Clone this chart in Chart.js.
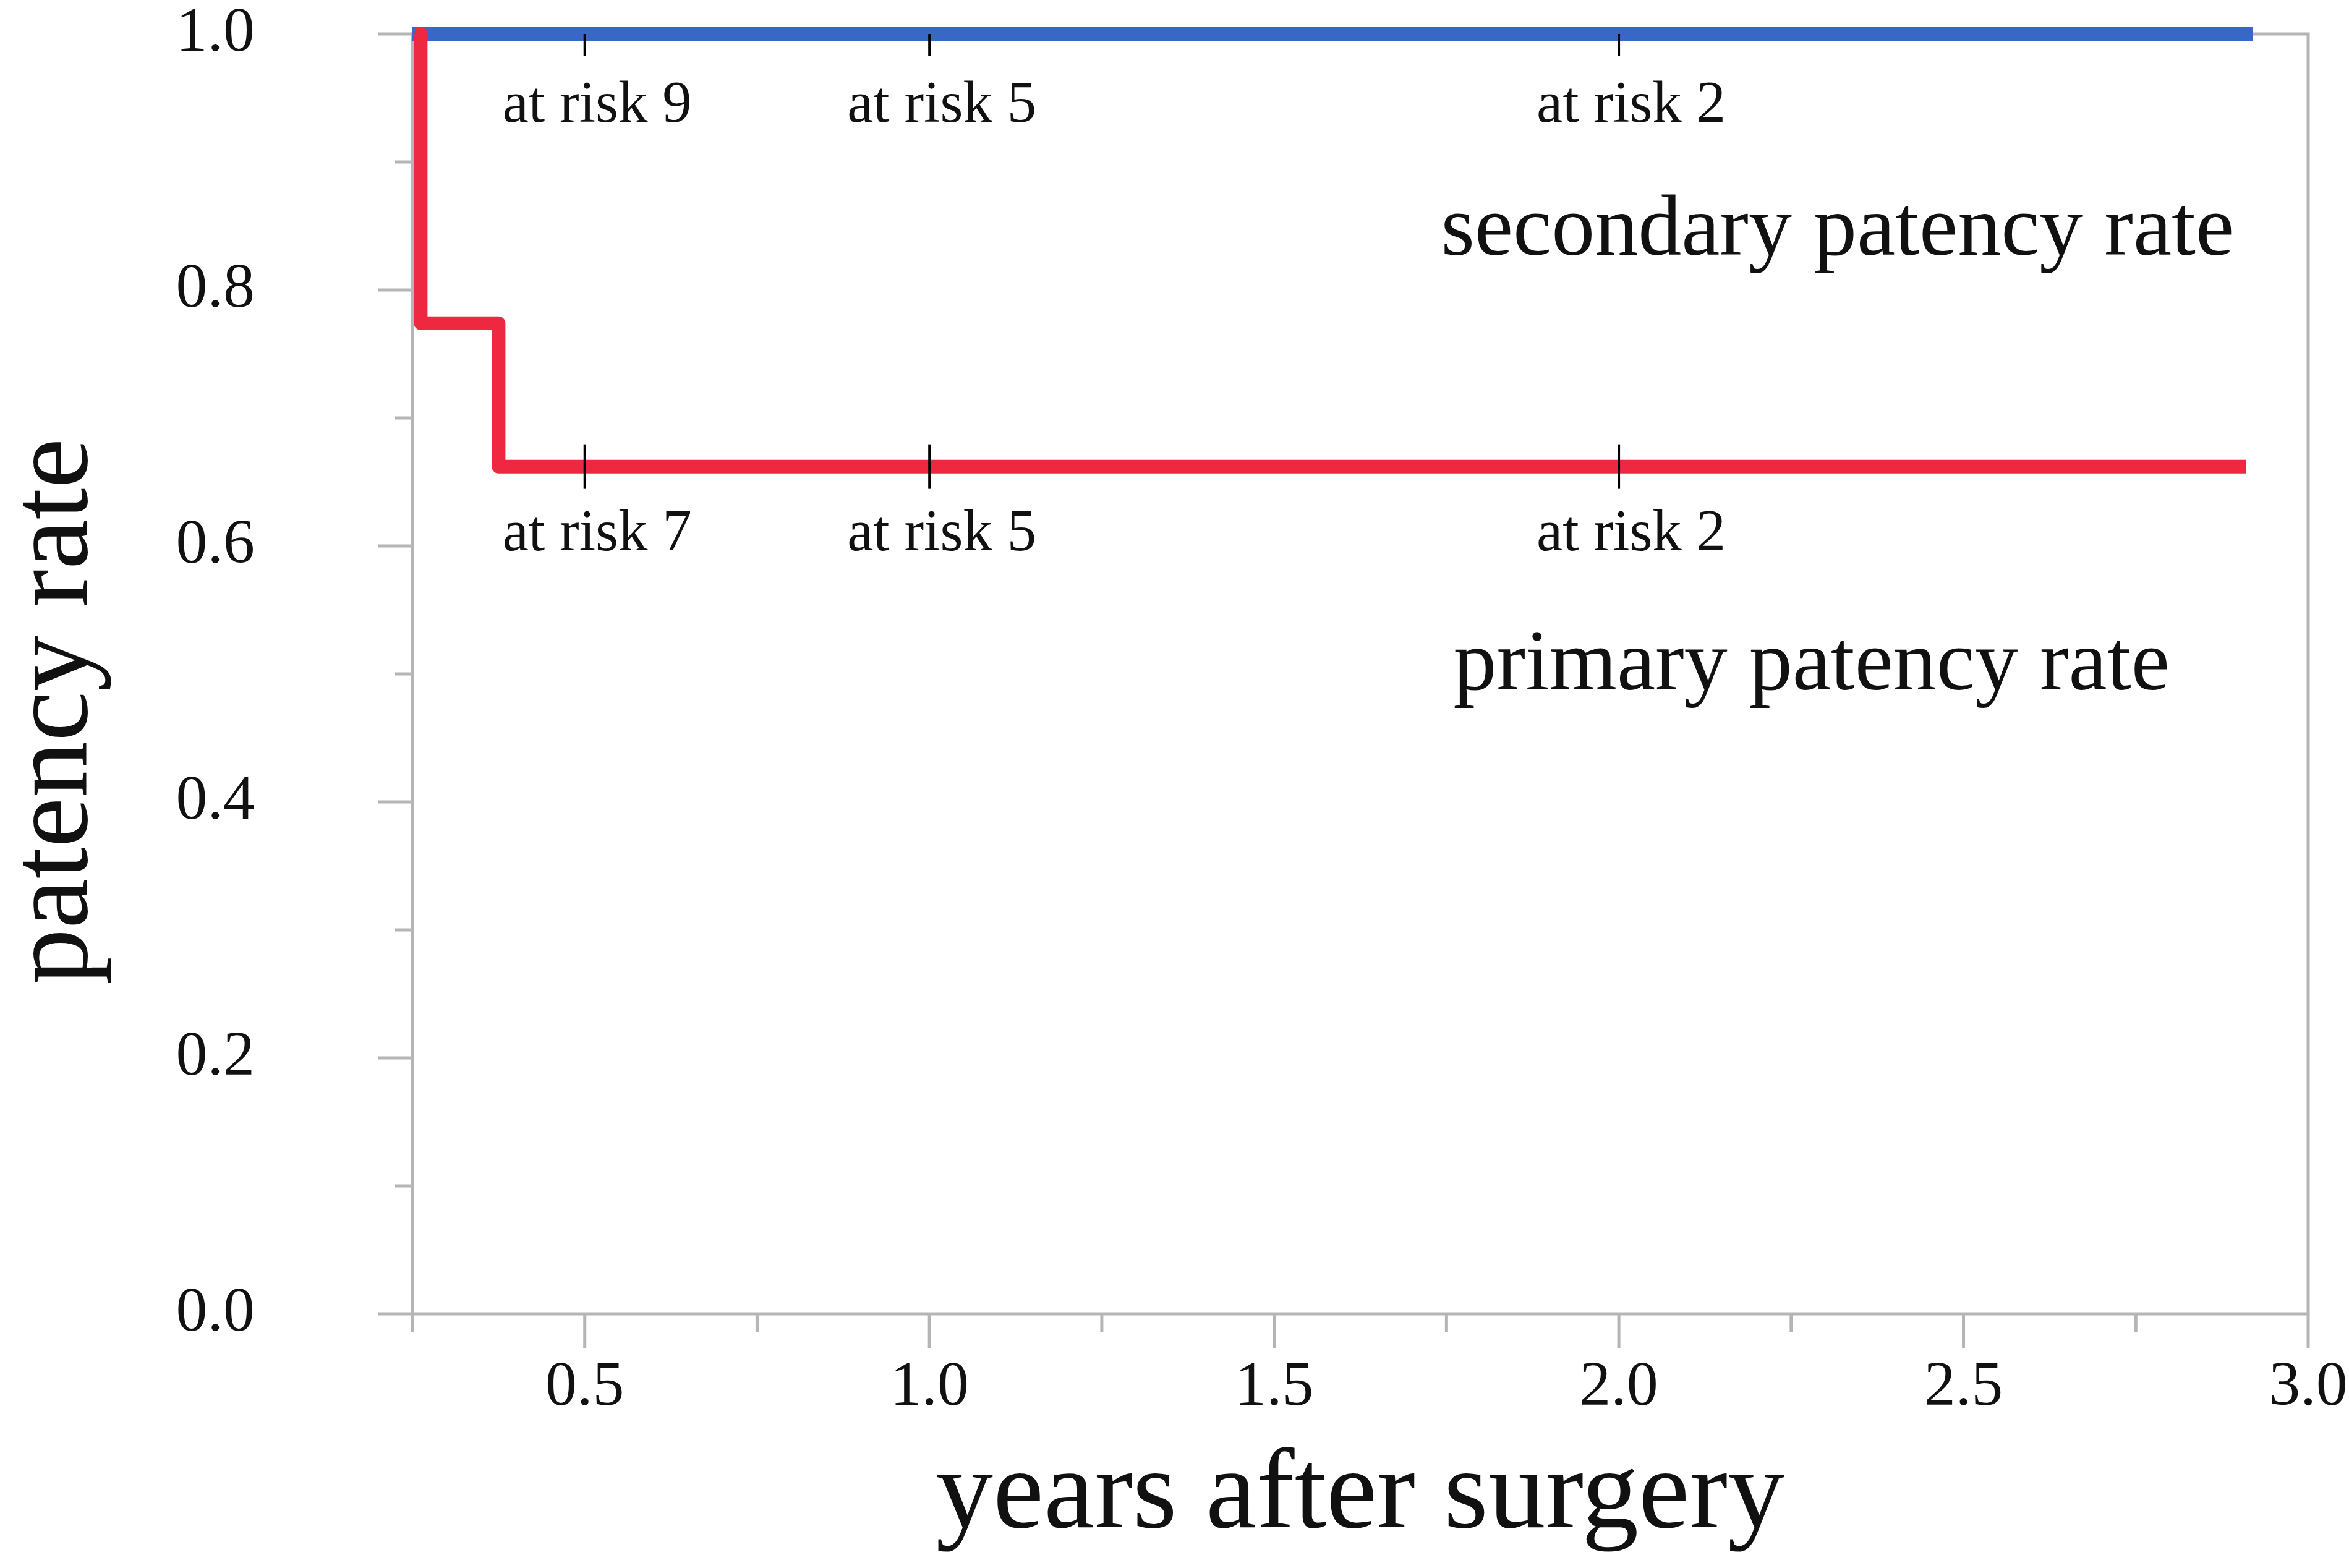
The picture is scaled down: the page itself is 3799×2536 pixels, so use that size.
<!DOCTYPE html>
<html>
<head>
<meta charset="utf-8">
<title>patency rate</title>
<script src="https://cdn.jsdelivr.net/npm/chart.js@4.4.1/dist/chart.umd.min.js"></script>
<style>
  html, body { margin: 0; padding: 0; background: #fff; }
</style>
</head>
<body>
<canvas id="patencyChart" width="3799" height="2536"></canvas>
<script>
// step curves (years, rate)
const primaryYears = [0.255, 0.262, 0.375, 2.91];
const primaryRate = [1.0, 0.774, 0.662, 0.662];
const secondaryYears = [0.25, 2.92];
const secondaryRate = [1.0, 1.0];

// censor marks + numbers at risk
const censorYears = [0.5, 1.0, 2.0];
const primaryCensorRate = [0.662, 0.662, 0.662];
const secondaryCensorRate = [1.0, 1.0, 1.0];
const primaryAtRisk = [7, 5, 2];
const secondaryAtRisk = [9, 5, 2];

const xTickLabels = ['0.5', '1.0', '1.5', '2.0', '2.5', '3.0'];
const yTickLabels = ['0.0', '0.2', '0.4', '0.6', '0.8', '1.0'];

const serif = '"Liberation Serif", "Times New Roman", serif';
const blue = '#3768C5';
const red = '#EE2841';
const axisGrey = '#b5b5b5';

function pts(xs, ys) {
    return xs.map((x, i) => ({ x: x, y: ys[i] }));
}

const framePlugin = {
    id: 'frame',
    beforeDatasetsDraw(chart) {
        const ctx = chart.ctx;
        const a = chart.chartArea;
        const x = chart.scales.x;
        const y = chart.scales.y;
        ctx.save();
        ctx.strokeStyle = axisGrey;
        ctx.lineWidth = 5;
        ctx.strokeRect(a.left, a.top, a.right - a.left, a.bottom - a.top);
        ctx.beginPath();
        y.ticks.forEach(t => {
            const py = y.getPixelForValue(t.value);
            const len = t.label ? 55 : 28;
            ctx.moveTo(a.left - len, py);
            ctx.lineTo(a.left, py);
        });
        x.ticks.forEach(t => {
            const px = x.getPixelForValue(t.value);
            const len = t.label ? 55 : 30;
            ctx.moveTo(px, a.bottom);
            ctx.lineTo(px, a.bottom + len);
        });
        ctx.stroke();
        ctx.restore();
    },
    afterDatasetsDraw(chart, args, opts) {
        const ctx = chart.ctx;
        const x = chart.scales.x;
        const y = chart.scales.y;
        ctx.save();
        ctx.fillStyle = '#111';

        // at risk numbers under each censor mark
        ctx.font = '95px ' + serif;
        ctx.textAlign = 'center';
        ctx.textBaseline = 'alphabetic';
        censorYears.forEach((yr, i) => {
            const px = x.getPixelForValue(yr) + 20;
            ctx.fillText('at risk ' + secondaryAtRisk[i], px, y.getPixelForValue(secondaryCensorRate[i]) + 142);
            ctx.fillText('at risk ' + primaryAtRisk[i], px, y.getPixelForValue(primaryCensorRate[i]) + 135);
        });

        // curve names
        ctx.font = '140px ' + serif;
        ctx.textAlign = 'left';
        opts.names.forEach(n => {
            ctx.fillText(n.text, x.getPixelForValue(n.x), y.getPixelForValue(n.y));
        });

        // y axis title
        ctx.font = '182px ' + serif;
        ctx.textAlign = 'center';
        ctx.translate(140, 1151);
        ctx.rotate(-Math.PI / 2);
        ctx.fillText('patency rate', 0, 0);
        ctx.restore();
    }
};

const patencyChart = new Chart(document.getElementById('patencyChart'), {
    type: 'scatter',
    data: {
        datasets: [
            {
                label: 'secondary censored',
                data: pts(censorYears, secondaryCensorRate),
                pointStyle: 'line',
                rotation: 90,
                radius: 36,
                borderWidth: 4,
                borderColor: '#000',
                order: 0
            },
            {
                label: 'primary censored',
                data: pts(censorYears, primaryCensorRate),
                pointStyle: 'line',
                rotation: 90,
                radius: 36,
                borderWidth: 4,
                borderColor: '#000',
                order: 0
            },
            {
                label: 'primary patency rate',
                data: pts(primaryYears, primaryRate),
                showLine: true,
                stepped: 'before',
                borderColor: red,
                borderWidth: 22,
                borderJoinStyle: 'round',
                borderCapStyle: 'butt',
                pointRadius: 0,
                clip: false,
                order: 2
            },
            {
                label: 'secondary patency rate',
                data: pts(secondaryYears, secondaryRate),
                showLine: true,
                borderColor: blue,
                borderWidth: 22,
                borderCapStyle: 'butt',
                pointRadius: 0,
                clip: false,
                order: 3
            }
        ]
    },
    options: {
        responsive: false,
        animation: false,
        events: [],
        layout: {
            padding: { top: 55, right: 66, left: 0, bottom: 0 }
        },
        scales: {
            x: {
                type: 'linear',
                min: 0.25,
                max: 3.0,
                afterFit: s => { s.height = 411; },
                // tick marks are drawn by the frame plugin, tickLength only spaces the labels
                grid: { display: false, drawTicks: true, tickLength: 59 },
                border: { display: false },
                ticks: {
                    stepSize: 0.25,
                    autoSkip: false,
                    maxRotation: 0,
                    padding: 0,
                    color: '#111',
                    font: { family: serif, size: 102, lineHeight: 1.2 },
                    callback: v => {
                        const s = v.toFixed(1);
                        return Math.abs(v * 2 - Math.round(v * 2)) < 1e-6 && xTickLabels.includes(s) ? s : '';
                    }
                },
                title: {
                    display: true,
                    text: 'years after surgery',
                    color: '#111',
                    font: { family: serif, size: 185, lineHeight: 1.2 },
                    padding: { top: 0, bottom: 4 }
                }
            },
            y: {
                min: 0,
                max: 1,
                afterFit: s => { s.width = 667; },
                grid: { display: false, drawTicks: true, tickLength: 255 },
                border: { display: false },
                ticks: {
                    stepSize: 0.1,
                    autoSkip: false,
                    padding: 0,
                    color: '#111',
                    font: { family: serif, size: 102, lineHeight: 1.0 },
                    callback: v => {
                        const s = v.toFixed(1);
                        return yTickLabels.includes(s) ? s : '';
                    }
                }
            }
        },
        plugins: {
            legend: { display: false },
            tooltip: { enabled: false },
            frame: {
                names: [
                    { text: 'secondary patency rate', x: 1.742, y: 0.8275 },
                    { text: 'primary patency rate', x: 1.76, y: 0.488 }
                ]
            }
        }
    },
    plugins: [framePlugin]
});
</script>
</body>
</html>
